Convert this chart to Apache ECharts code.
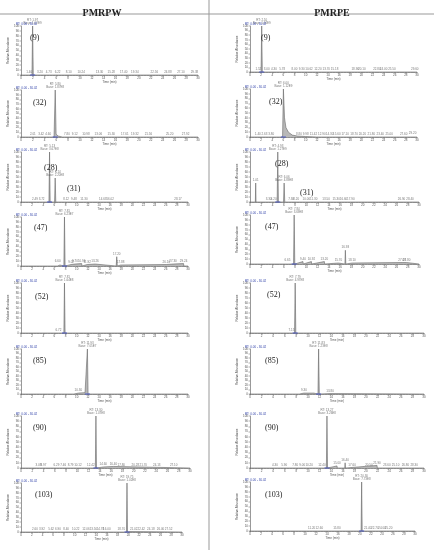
<!DOCTYPE html>
<html>
<head>
<meta charset="utf-8">
<script src="https://cdn.jsdelivr.net/npm/echarts@6/dist/echarts.min.js"></script>
<style>
  html, body { margin: 0; padding: 0; background: #fff; }
  #chart { width: 434px; height: 550px; }
</style>
</head>
<body>
<div id="chart"></div>
<script>
// column headings and compound numbers
const columnTitles = ['PMRPW', 'PMRPE']
const compoundLabels = ['(9)', '(32)', '(28)', '(47)', '(52)', '(85)', '(90)', '(103)']

// PMRPW traces: [time (min), relative abundance]
const w9 = [[0,0],[1.40,0],[1.42,1],[1.45,0],[1.86,0],[1.97,100],[2.08,0],[30,0]]
const w32 = [[0,0],[5.6,0],[5.8,100],[5.95,6],[6.3,2],[7.0,0],[30,0]]
const w28 = [[0,0],[5.02,0],[5.13,100],[5.24,0],[6.03,0],[6.14,48],[6.25,0],[8.1,0],[8.15,1],[8.2,0],[30,0]]
const w47 = [[0,0],[6.55,0],[6.6,4],[6.65,0],[7.0,2],[7.05,0],[7.7,0],[7.81,100],[7.92,0],[9.0,3],[9.05,0],[9.7,4],[9.75,0],[10.9,5],[10.95,0],[11.9,3],[11.95,0],[13.3,4],[13.35,0],[17.1,0],[17.2,19],[17.3,0],[17.9,2],[17.95,0],[26.1,3],[26.15,0],[27.3,4],[27.35,0],[29.2,5],[29.25,0],[30,0]]
const w52 = [[0,0],[6.7,0],[6.72,1],[6.75,0],[7.7,0],[7.81,100],[7.92,0],[30,0]]
const w85 = [[0,0],[9.5,0],[10.3,2],[11.5,3],[11.82,0],[11.93,100],[12.05,0],[30,0]]
const w90 = [[0,0],[13.2,0],[13.3,100],[13.4,0],[14.6,2],[14.65,0],[16.4,3],[16.45,0],[30,0]]
const w103 = [[0,0],[19.65,0],[19.75,100],[19.85,0],[20.3,1],[20.35,0],[30,0]]

// PMRPE traces
const e9 = [[0,0],[1.99,0],[2.1,100],[2.21,0],[30,0]]
const e32 = [[0,0],[5.85,0],[6.0,100],[6.2,40],[6.45,20],[6.9,10],[7.6,4],[8.5,2],[10,1],[12,0],[30,0]]
const e28 = [[0,0],[0.95,0],[1.01,38],[1.07,0],[4.82,0],[4.93,100],[5.04,0],[5.95,0],[6.06,38],[6.17,0],[30,0]]
const e47 = [[0,0],[6.6,0],[6.65,3],[6.7,0],[7.73,0],[7.84,100],[7.95,0],[9.4,5],[9.45,0],[10.9,5],[10.95,0],[13.2,5],[13.25,0],[15.7,2],[15.75,0],[16.85,0],[16.93,28],[17.01,0],[18.1,2],[18.15,0],[27.0,3],[27.05,0],[27.8,3],[27.85,0],[30,0]]
const e52 = [[0,0],[7.1,0],[7.15,1],[7.2,0],[7.68,0],[7.79,100],[7.9,0],[30,0]]
const e85 = [[0,0],[8.5,0],[9.3,2],[11.0,2],[11.72,0],[11.83,100],[11.95,0],[13.8,1],[13.85,0],[30,0]]
const e90 = [[0,0],[13.17,0],[13.27,100],[13.37,0],[15.0,4],[15.05,0],[16.35,0],[16.4,10],[16.45,0],[21.9,5],[21.95,0],[30,0]]
const e103 = [[0,0],[20.2,0],[20.3,100],[20.4,0],[30,0]]

// peak annotations: [time, abundance, text]
const wPeaks = [
  [[1.97,100,'RT: 1.97\nBase: 1.02E9'],[1.40,1,'1.40'],[3.2,0,'3.20'],[4.7,0,'4.73'],[6.2,0,'6.22'],[8.1,0,'8.10'],[10.2,0,'10.24'],[13.3,0,'13.30'],[15.3,0,'15.28'],[17.4,0,'17.40'],[19.3,0,'19.34'],[22.6,0,'22.56'],[24.9,0,'24.88'],[27.1,0,'27.10'],[29.4,0,'29.38']],
  [[5.8,100,'RT: 5.80\nBase: 1.87E8'],[2.0,0,'2.01'],[3.4,0,'3.42'],[4.6,0,'4.60'],[7.8,0,'7.80'],[9.1,0,'9.12'],[11.0,0,'10.98'],[13.1,0,'13.06'],[15.3,0,'15.30'],[17.6,0,'17.61'],[19.3,0,'19.32'],[21.6,0,'21.56'],[25.2,0,'25.20'],[27.9,0,'27.92']],
  [[5.13,100,'RT: 5.13\nBase: 3.67E8'],[6.14,48,'RT: 6.14\nBase: 2.20E8'],[2.5,0,'2.49'],[3.7,0,'3.72'],[8.1,1,'8.12'],[9.5,0,'9.48'],[11.3,0,'11.30'],[14.7,0,'14.68'],[16.0,0,'16.02'],[28.2,0,'28.17']],
  [[7.81,100,'RT: 7.81\nBase: 6.23E7'],[6.6,4,'6.60'],[9.0,3,'9.02'],[9.7,4,'9.70'],[10.9,5,'10.94'],[11.9,3,'11.92'],[13.3,4,'13.26'],[17.2,19,'17.20'],[17.9,2,'17.88'],[26.1,3,'26.10'],[27.3,4,'27.30'],[29.2,5,'29.24']],
  [[7.81,100,'RT: 7.81\nBase: 1.64E8'],[6.72,1,'6.72']],
  [[11.93,100,'RT: 11.93\nBase: 7.05E7'],[10.3,2,'10.30']],
  [[13.3,100,'RT: 13.30\nBase: 1.07E8'],[3.1,0,'3.08'],[4.0,0,'3.97'],[6.3,0,'6.29'],[7.5,0,'7.46'],[8.8,0,'8.79'],[10.1,0,'10.12'],[12.4,0,'12.42'],[14.6,2,'14.60'],[16.4,3,'16.40'],[17.8,0,'17.80'],[20.3,0,'20.28'],[21.7,0,'21.70'],[24.1,0,'24.13'],[27.1,0,'27.10']],
  [[19.75,100,'RT: 19.75\nBase: 1.02E8'],[2.6,0,'2.60'],[3.9,0,'3.92'],[5.6,0,'5.62'],[6.9,0,'6.90'],[8.4,0,'8.40'],[10.2,0,'10.22'],[12.1,0,'12.06'],[13.5,0,'13.50'],[14.8,0,'14.78'],[16.0,0,'16.00'],[18.7,0,'18.70'],[21.0,0,'21.02'],[22.4,0,'22.42'],[24.2,0,'24.18'],[26.0,0,'26.00'],[27.5,0,'27.52']]
]
const ePeaks = [
  [[2.1,100,'RT: 2.10\nBase: 1.34E9'],[1.5,0,'1.52'],[3.0,0,'3.00'],[4.3,0,'4.30'],[5.8,0,'5.78'],[8.0,0,'8.00'],[9.3,0,'9.30'],[10.6,0,'10.62'],[12.2,0,'12.20'],[13.7,0,'13.70'],[15.2,0,'15.18'],[18.9,0,'18.90'],[20.1,0,'20.10'],[22.8,0,'22.80'],[24.0,0,'24.00'],[25.5,0,'25.50'],[29.6,0,'29.60']],
  [[6.0,100,'RT: 6.00\nBase: 1.12E9'],[1.4,0,'1.40'],[2.6,0,'2.63'],[3.8,0,'3.80'],[8.8,1,'8.80'],[10.0,0,'9.98'],[11.4,0,'11.42'],[12.9,0,'12.90'],[14.3,0,'14.30'],[15.6,0,'15.60'],[17.1,0,'17.10'],[18.7,0,'18.70'],[20.2,0,'20.20'],[21.8,0,'21.80'],[23.4,0,'23.40'],[25.0,0,'25.00'],[27.6,0,'27.60'],[29.2,2,'29.20']],
  [[4.93,100,'RT: 4.93\nBase: 1.27E9'],[6.06,38,'RT: 6.06\nBase: 4.89E8'],[1.01,38,'1.01'],[3.3,0,'3.30'],[4.2,0,'4.20'],[7.3,0,'7.30'],[8.2,0,'8.20'],[10.0,0,'10.00'],[11.3,0,'11.30'],[13.5,1,'13.50'],[15.3,0,'15.30'],[16.6,0,'16.60'],[17.9,0,'17.90'],[26.9,0,'26.90'],[28.4,0,'28.40']],
  [[7.84,100,'RT: 7.84\nBase: 3.69E8'],[6.65,3,'6.65'],[9.4,5,'9.40'],[10.9,5,'10.92'],[13.2,5,'13.20'],[15.7,2,'15.70'],[16.93,28,'16.93'],[18.1,2,'18.10'],[27.0,3,'27.00'],[27.8,3,'27.80']],
  [[7.79,100,'RT: 7.79\nBase: 4.97E8'],[7.15,1,'7.15']],
  [[11.83,100,'RT: 11.83\nBase: 1.23E8'],[9.3,2,'9.30'],[13.8,1,'13.80']],
  [[13.27,100,'RT: 13.27\nBase: 3.26E8'],[4.3,0,'4.30'],[5.9,0,'5.90'],[7.8,0,'7.80'],[9.0,0,'9.00'],[10.2,0,'10.20'],[12.4,0,'12.40'],[15.0,4,'15.00'],[16.4,10,'16.40'],[17.6,0,'17.60'],[20.5,0,'20.50'],[21.9,5,'21.90'],[23.6,0,'23.60'],[25.1,0,'25.10'],[26.8,0,'26.80'],[28.3,0,'28.30']],
  [[20.3,100,'RT: 20.30\nBase: 7.73E8'],[11.2,0,'11.20'],[12.6,0,'12.60'],[15.8,0,'15.80'],[21.4,0,'21.40'],[22.7,0,'22.70'],[24.0,0,'24.00'],[25.2,0,'25.20']]
]

const wTraces = [w9, w32, w28, w47, w52, w85, w90, w103]
const eTraces = [e9, e32, e28, e47, e52, e85, e90, e103]

// layout of the 16 panels (pixels)
const leftCol = { x: 21, widths: [177, 177, 167, 167, 167, 167, 169, 161],
  tops: [26, 90, 152, 217, 283, 349, 416, 483], bottoms: [75, 137, 202, 266, 333, 394, 468, 532] }
const rightCol = { x: 250, widths: [167, 167, 169, 169, 174, 174, 174, 165],
  tops: [26, 89, 152, 215, 283, 349, 416, 482], bottoms: [72, 137, 202, 264, 333, 394, 468, 531] }

const tiny = { fontSize: 3, color: '#555', fontFamily: 'Liberation Sans' }
const serif = 'Liberation Serif'

const grids = [], xAxes = [], yAxes = [], series = [], titles = []

const addColumn = (col, traces, peaks, labelPos) => {
  traces.forEach((trace, i) => {
    const idx = grids.length
    const top = col.tops[i], bottom = col.bottoms[i]
    grids.push({ left: col.x, top: top, width: col.widths[i], height: bottom - top })
    xAxes.push({
      gridIndex: idx, type: 'value', min: 0, max: 30, interval: 2,
      name: 'Time (min)', nameLocation: 'middle', nameGap: 6, nameTextStyle: tiny,
      axisLine: { lineStyle: { color: '#333', width: 0.5 } },
      axisTick: { length: 1.5, lineStyle: { color: '#333', width: 0.4 } },
      minorTick: { show: true, splitNumber: 4, length: 1, lineStyle: { color: '#555', width: 0.3 } },
      axisLabel: { ...tiny, margin: 2 },
      splitLine: { show: false }
    })
    yAxes.push({
      gridIndex: idx, type: 'value', min: 0, max: 100, interval: 10,
      name: 'Relative Abundance', nameLocation: 'middle', nameGap: 9, nameRotate: 90, nameTextStyle: tiny,
      axisLine: { show: true, lineStyle: { color: '#333', width: 0.5 } },
      axisTick: { show: true, length: 1.5, lineStyle: { color: '#333', width: 0.4 } },
      axisLabel: { ...tiny, margin: 2 },
      splitLine: { show: false }
    })
    series.push({
      type: 'line', xAxisIndex: idx, yAxisIndex: idx, data: trace,
      symbol: 'none', silent: true,
      lineStyle: { color: '#666', width: 0.6 },
      areaStyle: { color: '#b8b8b8', opacity: 1 },
      z: 2
    })
    series.push({
      type: 'scatter', xAxisIndex: idx, yAxisIndex: idx,
      data: peaks[i].map(p => ({ value: [p[0], p[1]], text: p[2] })),
      symbolSize: 0, silent: true,
      label: { show: true, position: 'top', distance: 1, ...tiny, lineHeight: 3.4,
        formatter: p => p.data.text },
      z: 3
    })
    // blue integration marks at the base of the main peak
    series.push({
      type: 'scatter', xAxisIndex: idx, yAxisIndex: idx,
      data: [[peaks[i][0][0], 0]],
      symbol: 'rect', symbolSize: [5, 1], silent: true,
      itemStyle: { color: '#3344cc' },
      z: 4
    })
    // run header above each panel
    titles.push({
      left: col.x - 10, top: top - 8,
      text: 'RT: 0.00 - 30.02', textStyle: { fontSize: 3, color: '#3344aa', fontWeight: 'normal', fontFamily: 'Liberation Sans' }
    })
    titles.push({
      left: labelPos[i][0], top: labelPos[i][1],
      text: compoundLabels[i], textStyle: { fontSize: 8, color: '#222', fontWeight: 'normal', fontFamily: serif }
    })
  })
}

addColumn(leftCol, wTraces, wPeaks, [[25,29],[28,94],[39,159],[29,219],[30,288],[28,352],[28,419],[30,486]])
addColumn(rightCol, eTraces, ePeaks, [[256,29],[264,93],[270,155],[260,218],[262,286],[260,352],[260,419],[260,486]])

// second compound in the third row of each column
titles.push({ left: 62, top: 180, text: '(31)', textStyle: { fontSize: 8, color: '#222', fontWeight: 'normal', fontFamily: serif } })
titles.push({ left: 295, top: 184, text: '(31)', textStyle: { fontSize: 8, color: '#222', fontWeight: 'normal', fontFamily: serif } })

titles.push({ left: 97, top: 3, textAlign: 'center', text: columnTitles[0],
  textStyle: { fontSize: 10, color: '#222', fontWeight: 'bold', fontFamily: serif } })
titles.push({ left: 327, top: 3, textAlign: 'center', text: columnTitles[1],
  textStyle: { fontSize: 10, color: '#222', fontWeight: 'bold', fontFamily: serif } })

const chart = echarts.init(document.getElementById('chart'), null, { renderer: 'canvas' })
chart.setOption({
  animation: false,
  backgroundColor: '#fff',
  title: titles,
  grid: grids,
  xAxis: xAxes,
  yAxis: yAxes,
  series: series,
  graphic: [
    { type: 'line', shape: { x1: 0, y1: 14, x2: 434, y2: 14 }, style: { stroke: '#999', lineWidth: 1 } },
    { type: 'line', shape: { x1: 209, y1: 0, x2: 209, y2: 550 }, style: { stroke: '#999', lineWidth: 1 } }
  ]
})
</script>
</body>
</html>
